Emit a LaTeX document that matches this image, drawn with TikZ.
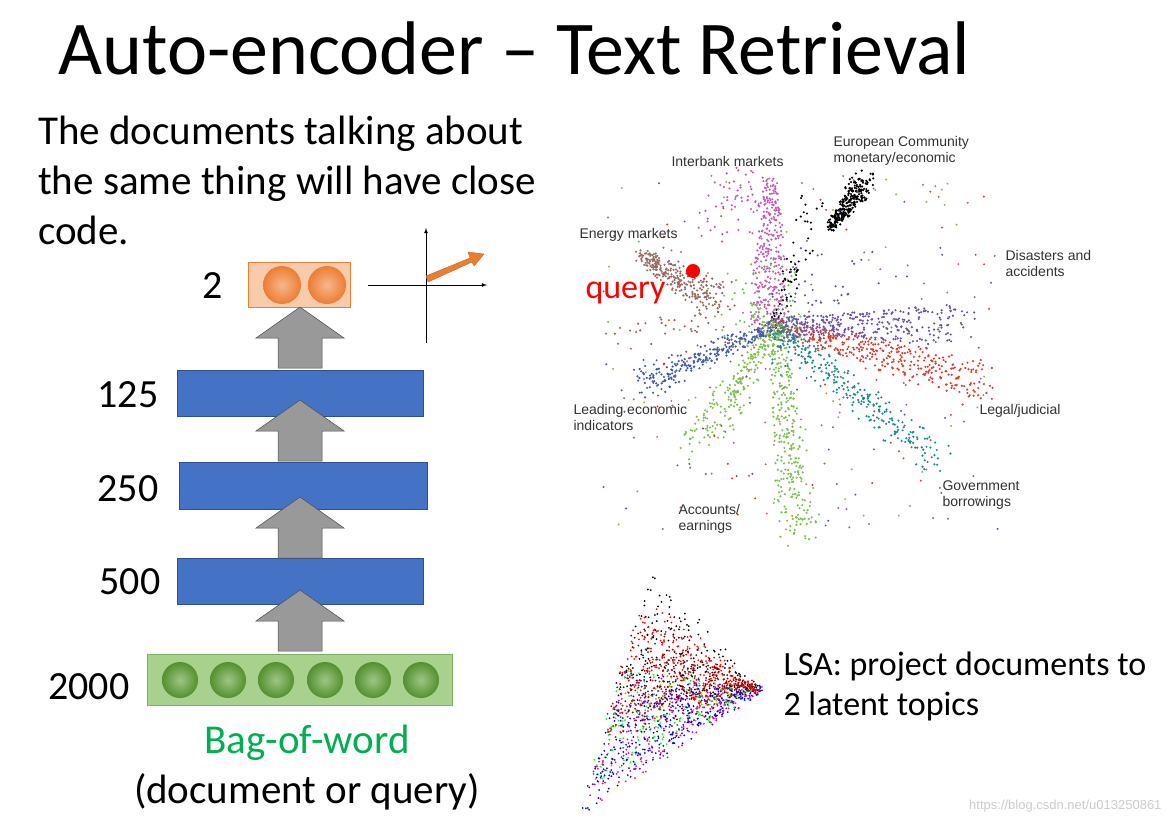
\documentclass[tikz,border=0pt]{standalone}
\usepackage{fontspec}
\setmainfont{Carlito}
\newfontfamily\lbl{Liberation Sans}
\definecolor{blu}{HTML}{4472C4}
\definecolor{grn}{HTML}{A9D18E}
\definecolor{dgrn}{HTML}{5DA032}
\definecolor{org}{HTML}{F8CBAD}
\definecolor{dorg}{HTML}{ED7D31}
\definecolor{brn}{HTML}{9A6A5E}
\definecolor{pnk}{HTML}{C65BB4}
\definecolor{prp}{HTML}{6A4FB0}
\definecolor{tea}{HTML}{1F8A8A}
\definecolor{lgr}{HTML}{7CC04E}
\definecolor{sblu}{HTML}{3D5BB0}
\definecolor{wred}{HTML}{E23A2A}
\definecolor{bowg}{HTML}{00B050}
\begin{document}
\begin{tikzpicture}[x=1pt,y=-1pt,
  layer/.style={fill=blu,draw=blu!70!black,line width=0.6pt},
  garrow/.style={fill=gray!80,draw=gray!60!black,line width=0.5pt},
  lab/.style={font=\fontsize{40}{40}\selectfont,anchor=east},
  sc/.style={font=\lbl\fontsize{14}{16}\selectfont,text=black!80,align=left,anchor=west}]
\useasboundingbox (0,0) rectangle (1169,824);
\fill[white] (0,0) rectangle (1169,824);
\node[anchor=base west,font=\fontsize{76}{76}\selectfont] (title) at (55,75) {Auto-encoder -- Text Retrieval};
\node[anchor=north west,align=left,font=\fontsize{41}{50}\selectfont,inner sep=0pt] (desc) at (38,116) {The documents talking about\\the same thing will have close\\code.};
% layers
\node[draw=dorg,fill=org,minimum width=102,minimum height=45,inner sep=0] (c2) at (299,285) {};
\foreach \x in {282,327}{\shade[inner color=dorg!55!white,outer color=dorg] (\x,285) circle (19);}
\node[layer,minimum width=246,minimum height=46] (l125) at (300,393) {};
\node[layer,minimum width=248,minimum height=47] (l250) at (303,486) {};
\node[layer,minimum width=246,minimum height=46] (l500) at (300,581) {};
\node[draw=dgrn!80,fill=grn,minimum width=305,minimum height=51,inner sep=0] (in) at (300,680) {};
\foreach \x in {180,228,276,325,373,421}{\shade[inner color=dgrn!60!white,outer color=dgrn!90!black] (\x,680) circle (18);}
\foreach \t in {307,400,497,590}{
  \fill[garrow] (300,\t) -- (344,\t+31) -- (322,\t+31) -- (322,\t+61) -- (278,\t+61) -- (278,\t+31) -- (256,\t+31) -- cycle;}
\node[lab] (t2) at (226,286) {2};
\node[lab] (t125) at (162,395) {125};
\node[lab] (t250) at (162,489) {250};
\node[lab] (t500) at (164,582) {500};
\node[lab] (t2000) at (133,687) {2000};
\node[font=\fontsize{41}{41}\selectfont,text=bowg] (bow) at (307,743) {Bag-of-word};
\node[font=\fontsize{41}{41}\selectfont] (doq) at (307,792) {(document or query)};
% axes
\coordinate (o) at (426,285);
\draw[-latex,line width=0.8pt] (368,285) -- (487,285);
\draw[-latex,line width=0.8pt] (426,343) -- (426,228);
\draw[dorg!80!black,fill=dorg] (426,276) -- (470,258) -- (468,252) -- (484,254) -- (474,266) -- (472,262) -- (428,282) -- cycle;
% scatter
\pgfmathsetseed{7}
\foreach \cx/\cy/\dx/\dy/\col/\n/\w in {
 640/255/80/45/brn/260/12, 600/330/170/-10/brn/30/10, 770/180/0/150/pnk/300/14, 830/228/35/-48/black/280/8, 775/325/40/-120/black/60/10,
 775/325/185/0/prp/320/14, 775/325/210/60/wred/360/14, 775/325/165/140/tea/260/12, 775/325/25/210/lgr/300/14,
 775/325/-75/120/lgr/230/14, 775/325/-135/60/sblu/260/10, 775/325/60/-40/prp/80/35, 775/325/-20/-30/lgr/80/35, 775/325/40/40/tea/60/25, 740/180/-10/40/pnk/60/30}{
 \foreach \i in {1,...,\n}{
  \pgfmathsetmacro\t{rnd}
  \pgfmathsetmacro\px{\cx+\t*\dx+rand*\w*(0.5+\t)}
  \pgfmathsetmacro\py{\cy+\t*\dy+rand*\w*(0.5+\t)}
  \fill[\col] (\px,\py) circle (1.2);}}
\foreach \i in {1,...,250}{
  \pgfmathsetmacro\px{600+rnd*400}
  \pgfmathsetmacro\py{175+rnd*355}
  \pgfmathtruncatemacro\c{rnd*5}
  \ifcase\c\def\cc{brn}\or\def\cc{prp}\or\def\cc{lgr}\or\def\cc{pnk}\else\def\cc{wred}\fi
  \fill[\cc] (\px,\py) circle (1.1);}
\fill[red] (693,271) circle (7);
\node[anchor=west,text=red,font=\fontsize{34}{34}\selectfont] (q) at (582,293) {query};
\node[sc] (s1) at (668,161) {Interbank markets};
\node[sc] (s2) at (830,151) {European Community\\monetary/economic};
\node[sc] (s3) at (576,235) {Energy markets};
\node[sc] (s4) at (1002,263) {Disasters and\\accidents};
\node[sc] (s5) at (570,417) {Leading economic\\indicators};
\node[sc] (s6) at (976,411) {Legal/judicial};
\node[sc] (s7) at (939,495) {Government\\borrowings};
\node[sc] (s8) at (675,519) {Accounts/\\earnings};
% LSA
\pgfmathsetseed{3}
\foreach \col/\sa/\sb in {black/0/0.5,red/0.1/0.6,blue/0.5/1,green/0.4/0.9,magenta/0.5/1,black!50!red/0.2/0.6,blue/0.4/0.9,red/0.2/0.7}{
 \foreach \i in {1,...,220}{
  \pgfmathsetmacro\r{rnd^0.8}
  \pgfmathsetmacro\s{\sa+rnd*(\sb-\sa)}
  \pgfmathsetmacro\px{760+\r*(-110*(1-\s)-180*\s)+rand*4}
  \pgfmathsetmacro\py{690+\r*(-120*(1-\s)+125*\s)+rand*4}
  \fill[\col] (\px,\py) circle (1);}}
\node[anchor=west,align=left,font=\fontsize{34}{40}\selectfont] (lsa) at (780,686) {LSA: project documents to\\2 latent topics};
\node[anchor=east,text=black!20,font=\lbl\fontsize{13}{13}\selectfont] (wm) at (1165,806) {https://blog.csdn.net/u013250861};
\end{tikzpicture}
\end{document}
